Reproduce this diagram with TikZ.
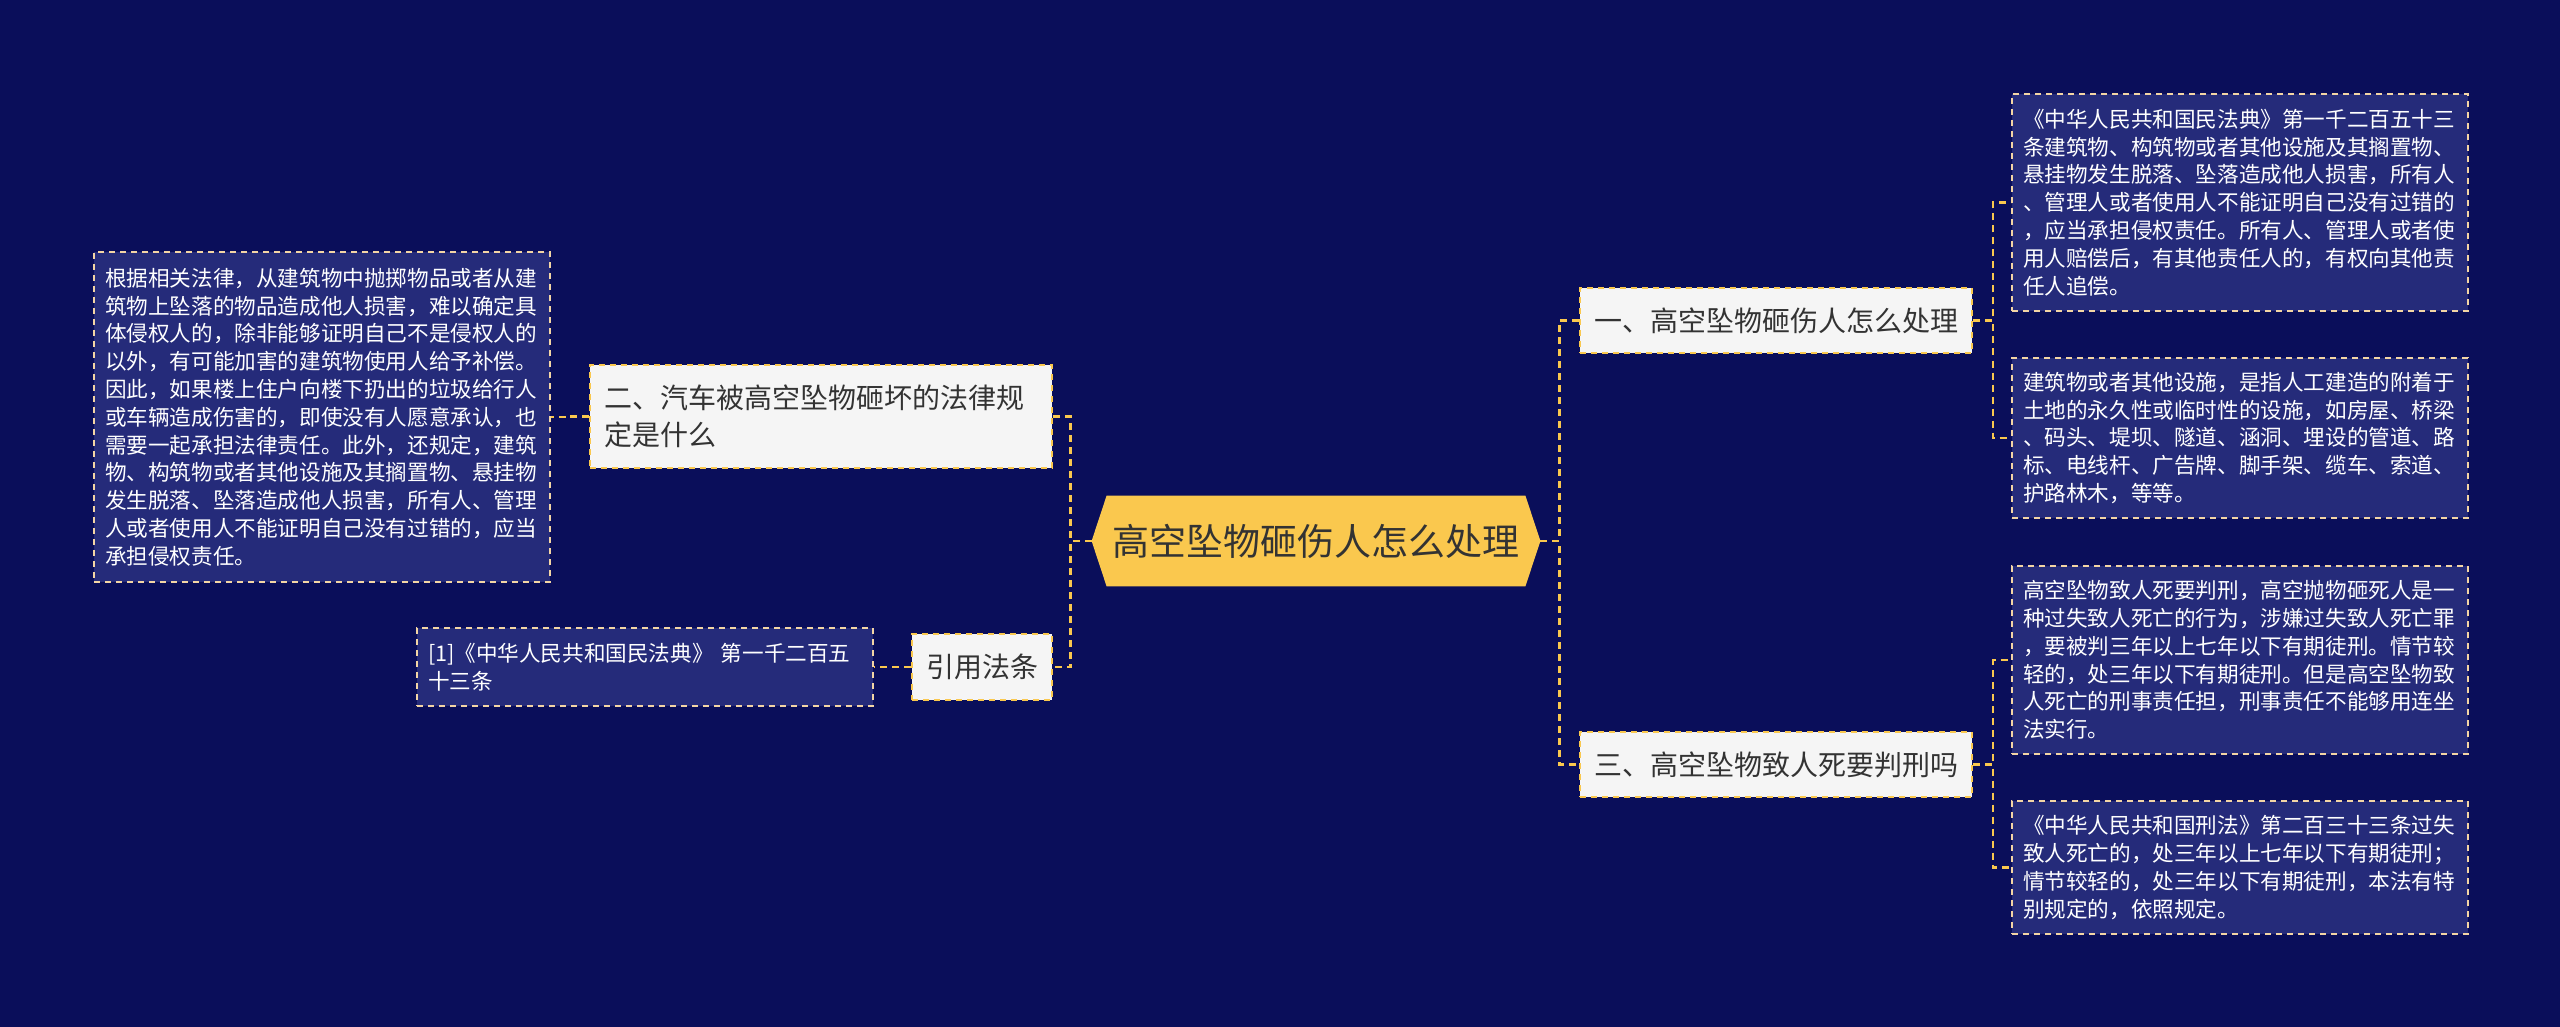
\documentclass[tikz,border=0pt]{standalone}
\usepackage{fontspec}
\setmainfont{Noto Sans CJK SC}
\usetikzlibrary{calc}
\definecolor{bgc}{HTML}{0A0E5A}
\definecolor{leaffill}{HTML}{252B7A}
\definecolor{leafline}{HTML}{F3D5A5}
\definecolor{gold}{HTML}{FAC84E}
\definecolor{branchfill}{HTML}{F5F5F5}
\definecolor{txt}{HTML}{333333}
\pgfdeclarelayer{bg}
\pgfdeclarelayer{mid}
\pgfsetlayers{bg,mid,main}
\begin{document}
\begin{tikzpicture}[x=0.5pt,y=-0.5pt,
  leaf/.style={draw=leafline, fill=leaffill, line width=1pt, dash pattern=on 3pt off 2.5pt,
    text=white, font=\fontsize{10.8}{13.9}\selectfont, align=left, anchor=north west,
    inner xsep=5.5pt, inner ysep=0pt, text width=217pt, minimum width=228pt},
  branch/.style={draw=gold, fill=branchfill, line width=1pt, dash pattern=on 3pt off 2.5pt,
    text=txt, font=\fontsize{14}{18.75}\selectfont, align=left, anchor=north west,
    inner xsep=7pt, inner ysep=0pt},
  conn/.style={draw=gold, line width=1.25pt, dash pattern=on 3.5pt off 2.5pt},
  hub/.style={inner sep=0pt, minimum width=224pt, minimum height=45pt, text=txt,
    font=\fontsize{18.5}{22}\selectfont}
]
\begin{pgfonlayer}{bg}
\fill[bgc] (0,0) rectangle (2560,1027);
\end{pgfonlayer}
\useasboundingbox (0,0) rectangle (2560,1027);

% hub
\node[hub] (c) at (1316,541) {高空坠物砸伤人怎么处理};
\begin{pgfonlayer}{mid}
\fill[gold] (c.west) -- ($(c.north west)+(15,0)$) -- ($(c.north east)+(-15,0)$) -- (c.east)
  -- ($(c.south east)+(-15,0)$) -- ($(c.south west)+(15,0)$) -- cycle;
\end{pgfonlayer}

% branches
\node[branch, text width=217pt, minimum height=51.5pt] (n2) at (589,364)
  {二、汽车被高空坠物砸坏的法律规\\定是什么};
\node[branch, minimum width=70pt, minimum height=33pt, align=center] (nref) at (911,633) {引用法条};
\node[branch, minimum width=196pt, minimum height=32.5pt, align=center] (n1) at (1579,287) {一、高空坠物砸伤人怎么处理};
\node[branch, minimum width=196pt, minimum height=32.5pt, align=center] (n3) at (1579,731) {三、高空坠物致人死要判刑吗};

% leaves
\node[leaf, minimum height=165pt] (l1) at (93,251) {根据相关法律，从建筑物中抛掷物品或者从建\\
筑物上坠落的物品造成他人损害，难以确定具\\
体侵权人的，除非能够证明自己不是侵权人的\\
以外，有可能加害的建筑物使用人给予补偿。\\
因此，如果楼上住户向楼下扔出的垃圾给行人\\
或车辆造成伤害的，即使没有人愿意承认，也\\
需要一起承担法律责任。此外，还规定，建筑\\
物、构筑物或者其他设施及其搁置物、悬挂物\\
发生脱落、坠落造成他人损害，所有人、管理\\
人或者使用人不能证明自己没有过错的，应当\\
承担侵权责任。};
\node[leaf, minimum height=39pt] (l2) at (416,627) {[1]《中华人民共和国民法典》 第一千二百五\\十三条};
\node[leaf, minimum height=108.5pt] (la) at (2011,93) {《中华人民共和国民法典》第一千二百五十三\\
条建筑物、构筑物或者其他设施及其搁置物、\\
悬挂物发生脱落、坠落造成他人损害，所有人\\
、管理人或者使用人不能证明自己没有过错的\\
，应当承担侵权责任。所有人、管理人或者使\\
用人赔偿后，有其他责任人的，有权向其他责\\
任人追偿。};
\node[leaf, minimum height=80pt] (lb) at (2011,357) {建筑物或者其他设施，是指人工建造的附着于\\
土地的永久性或临时性的设施，如房屋、桥梁\\
、码头、堤坝、隧道、涵洞、埋设的管道、路\\
标、电线杆、广告牌、脚手架、缆车、索道、\\
护路林木，等等。};
\node[leaf, minimum height=94pt] (lc) at (2011,565) {高空坠物致人死要判刑，高空抛物砸死人是一\\
种过失致人死亡的行为，涉嫌过失致人死亡罪\\
，要被判三年以上七年以下有期徒刑。情节较\\
轻的，处三年以下有期徒刑。但是高空坠物致\\
人死亡的刑事责任担，刑事责任不能够用连坐\\
法实行。};
\node[leaf, minimum height=66.5pt] (ld) at (2011,800) {《中华人民共和国刑法》第二百三十三条过失\\
致人死亡的，处三年以上七年以下有期徒刑；\\
情节较轻的，处三年以下有期徒刑，本法有特\\
别规定的，依照规定。};

% connectors
\draw[conn] (c.west) -- ++(-21,0) |- (n2.east);
\draw[conn] (c.west) -- ++(-21,0) |- (nref.east);
\draw[conn] (c.east) -- ++(19,0) |- (n1.west);
\draw[conn] (c.east) -- ++(19,0) |- (n3.west);
\draw[conn] (n1.east) -- ++(20,0) |- (la.west);
\draw[conn] (n1.east) -- ++(20,0) |- (lb.west);
\draw[conn] (n3.east) -- ++(20,0) |- (lc.west);
\draw[conn] (n3.east) -- ++(20,0) |- (ld.west);
\draw[conn] (n2.west) -- ++(-20,0) |- (l1.east);
\draw[conn] (nref.west) -- (l2.east);
\end{tikzpicture}
\end{document}
